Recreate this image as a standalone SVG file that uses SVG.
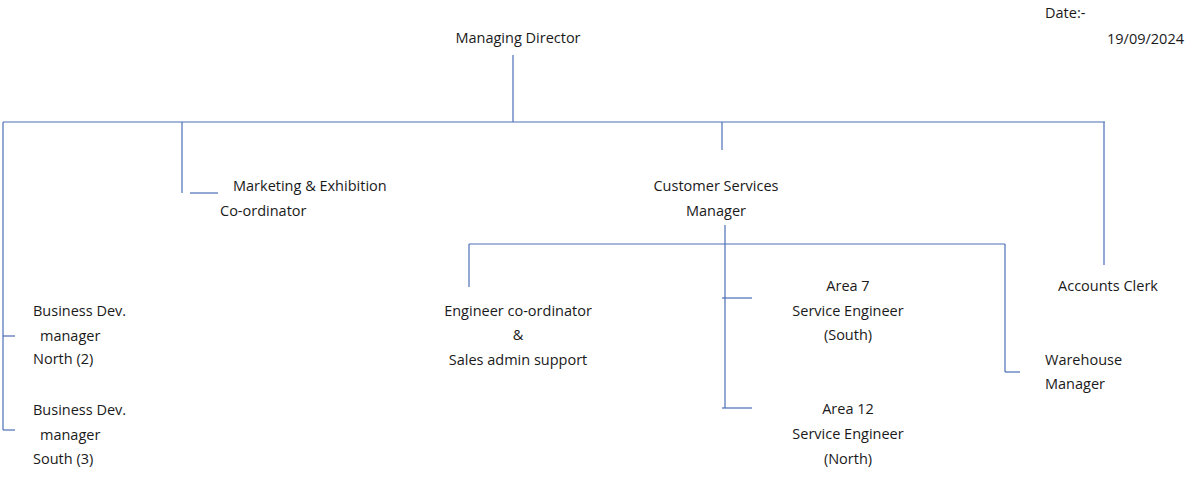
<svg xmlns="http://www.w3.org/2000/svg" width="1200" height="486" viewBox="0 0 1200 486">
<style>
text{font-family:"Open Sans","Liberation Sans",sans-serif;font-size:14.5px;fill:#1a1a1a}
.c{text-anchor:middle}
line{stroke:#4a6fb5;stroke-width:1.2}
</style>
<rect width="1200" height="486" fill="#fff"/>
<g id="connectors">
<line x1="513" y1="55" x2="513" y2="122"/>
<line x1="3" y1="122" x2="1105" y2="122"/>
<line x1="3" y1="122" x2="3" y2="430"/>
<line x1="182" y1="122" x2="182" y2="193"/>
<line x1="190" y1="193" x2="218" y2="193"/>
<line x1="722" y1="122" x2="722" y2="150"/>
<line x1="1104" y1="122" x2="1104" y2="265"/>
<line x1="725" y1="225" x2="725" y2="408"/>
<line x1="469" y1="244" x2="1005" y2="244"/>
<line x1="469" y1="244" x2="469" y2="287"/>
<line x1="1005" y1="244" x2="1005" y2="372"/>
<line x1="1005" y1="372" x2="1020" y2="372"/>
<line x1="722" y1="298" x2="752" y2="298"/>
<line x1="722" y1="408" x2="752" y2="408"/>
<line x1="3" y1="336" x2="15" y2="336"/>
<line x1="3" y1="430" x2="15" y2="430"/>
</g>
<g id="date"><text x="1045" y="18">Date:-</text><text x="1107" y="44">19/09/2024</text></g>
<g id="md"><text class="c" x="518" y="43">Managing Director</text></g>
<g id="marketing"><text x="233" y="191">Marketing &amp; Exhibition</text><text x="220" y="216">Co-ordinator</text></g>
<g id="csm"><text class="c" x="716" y="191">Customer Services</text><text class="c" x="716" y="216">Manager</text></g>
<g id="bdn"><text x="33" y="316">Business Dev.</text><text x="40" y="341">manager</text><text x="33" y="364">North (2)</text></g>
<g id="bds"><text x="33" y="415">Business Dev.</text><text x="40" y="440">manager</text><text x="33" y="464">South (3)</text></g>
<g id="eng"><text class="c" x="518" y="316">Engineer co-ordinator</text><text class="c" x="518" y="340">&amp;</text><text class="c" x="518" y="365">Sales admin support</text></g>
<g id="area7"><text class="c" x="848" y="291">Area 7</text><text class="c" x="848" y="316">Service Engineer</text><text class="c" x="848" y="340">(South)</text></g>
<g id="area12"><text class="c" x="848" y="414">Area 12</text><text class="c" x="848" y="439">Service Engineer</text><text class="c" x="848" y="464">(North)</text></g>
<g id="accounts"><text class="c" x="1108" y="291">Accounts Clerk</text></g>
<g id="warehouse"><text x="1045" y="365">Warehouse</text><text x="1045" y="389">Manager</text></g>
</svg>
